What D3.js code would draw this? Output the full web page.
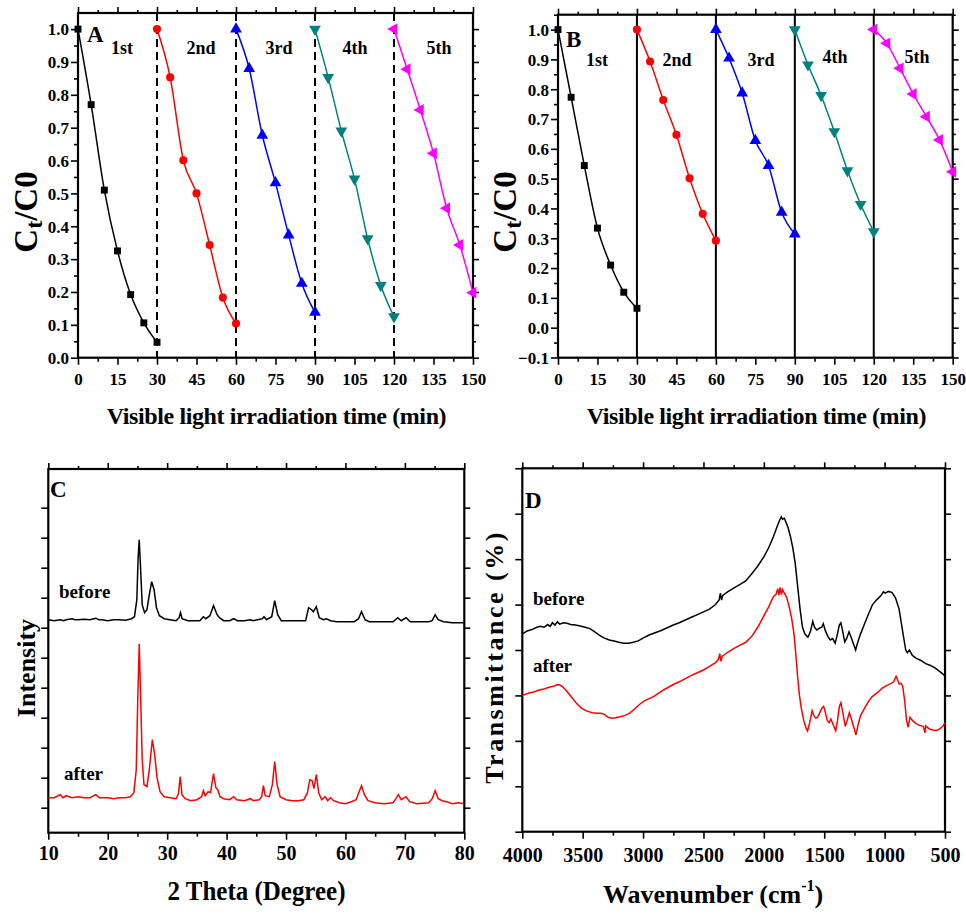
<!DOCTYPE html>
<html><head><meta charset="utf-8">
<script src="https://cdn.jsdelivr.net/npm/d3@7"></script>
<style>
html,body{margin:0;padding:0;background:#fff;}
svg text{font-family:"Liberation Serif","Times New Roman",serif;font-weight:bold;fill:#000;}
</style></head>
<body>
<svg id="chart" width="966" height="915"></svg>
<script>
// ---------- DATA ----------
const cycleLabels = ['1st','2nd','3rd','4th','5th'];
const cycleTimes = [
  [0,5,10,15,20,25,30],
  [30,35,40,45,50,55,60],
  [60,65,70,75,80,85,90],
  [90,95,100,105,110,115,120],
  [120,125,130,135,140,145,150]
];
const ratioA = [
  [1.0,0.77,0.51,0.325,0.192,0.106,0.047],
  [1.0,0.853,0.601,0.50,0.343,0.183,0.104],
  [1.0,0.88,0.677,0.532,0.373,0.226,0.138],
  [1.0,0.853,0.69,0.544,0.362,0.22,0.125],
  [1.0,0.878,0.754,0.622,0.455,0.343,0.198]
];
const ratioB = [
  [1.0,0.773,0.544,0.334,0.21,0.119,0.065],
  [1.0,0.893,0.764,0.647,0.501,0.382,0.292],
  [1.0,0.904,0.787,0.628,0.544,0.387,0.314],
  [1.0,0.882,0.779,0.658,0.527,0.414,0.322],
  [1.0,0.954,0.870,0.784,0.708,0.630,0.523]
];
const cycleBounds = [30,60,90,120];
const timeTicks = [0,15,30,45,60,75,90,105,120,135,150];
const ratioTicksA = [0,0.1,0.2,0.3,0.4,0.5,0.6,0.7,0.8,0.9,1.0];
const ratioTicksB = [-0.1,0,0.1,0.2,0.3,0.4,0.5,0.6,0.7,0.8,0.9,1.0];

// XRD (2 theta, intensity a.u.)
const xrdBefore = [[10,188],[11,187],[12,188],[12.6,187],[13,188],[14,189],[14.5,188],[15,188],[16,188.5],[17,188],[18,189.5],[18.5,188],[19,188],[20,187],[21,188],[22,188],[23,187.5],[24,189],[24.5,191],[24.9,208],[25.1,248],[25.3,268],[25.5,243],[25.8,203],[26.2,195],[26.6,198],[27.0,213],[27.4,226],[27.8,218],[28.2,200],[28.7,192],[29.5,189],[30.5,188],[31.5,187],[32.0,190],[32.25,195],[32.5,189],[33.5,187],[34.5,187],[35.5,187],[36.1,191],[36.5,189],[37.2,192],[37.8,202],[38.4,193],[38.8,190],[39.5,187],[40.5,187],[41.2,189],[41.8,187],[43,187],[44,188],[44.5,187],[46.0,189],[46.3,191],[46.7,188],[47.6,191],[48.1,207],[48.6,193],[49.2,187],[50.5,187],[52,187],[53.3,187],[53.8,200],[54.3,198],[54.6,196],[55.1,201],[55.6,190],[56.3,188],[56.8,189],[57.5,187],[58.5,186],[60,186],[61.5,186],[62.2,189],[62.7,196],[63.3,188],[64,186],[66,186],[68,186],[68.8,190],[69.4,187],[70.2,190],[70.9,186],[72,186],[74,186],[74.6,187],[75.1,193],[75.6,188],[76.5,186],[78,185],[80,185]];
const xrdAfter = [[10,10],[11,10],[12,13],[12.5,10],[13,12],[14,10],[15,11],[16,10],[17,10],[18,13],[18.6,10],[19.5,10],[20,10],[21,9],[22,10],[23,10],[23.8,11],[24.4,15],[24.8,38],[25.05,108],[25.3,164],[25.55,108],[25.8,48],[26.1,23],[26.6,21],[27.0,38],[27.5,68],[27.9,53],[28.3,30],[28.8,16],[29.5,11],[30.5,10],[31.5,9],[31.9,14],[32.2,31],[32.5,13],[33,9],[34,7],[35,8],[35.8,11],[36.1,17],[36.4,12],[36.9,16],[37.3,15],[37.8,34],[38.2,20],[38.5,18],[38.9,11],[39.5,9],[40.5,8],[41.2,11],[41.7,8],[43,7],[44,9],[44.5,7],[45.5,8],[45.9,11],[46.2,22],[46.5,12],[47.2,11],[47.7,23],[48.1,46],[48.5,23],[49,11],[50,8],[51,7],[52,7],[53,8],[53.6,15],[54.0,28],[54.4,27],[54.7,19],[55.1,33],[55.5,15],[56,8],[56.6,11],[57,7],[57.5,10],[58,7],[59,5],[60,4],[61,6],[61.8,8],[62.3,16],[62.7,22],[63.2,13],[63.8,7],[65,5],[66.5,4],[68,5],[68.5,9],[68.9,13],[69.4,8],[70.2,11],[70.8,6],[72,4],[74,5],[74.6,9],[75.1,17],[75.6,9],[76.3,7],[77,6],[78,4],[79,5],[80,4]];
const thetaTicks = [10,20,30,40,50,60,70,80];
const intensityTicks = [0,30,60,90,120,150,180,210,240,270,300];

// FTIR (wavenumber, transmittance a.u.)
const ftirBefore = [[4000,4.35],[3960,4.42],[3920,4.45],[3880,4.5],[3850,4.52],[3820,4.5],[3790,4.56],[3770,4.52],[3750,4.6],[3730,4.55],[3710,4.62],[3690,4.57],[3660,4.6],[3630,4.59],[3600,4.56],[3560,4.55],[3520,4.53],[3480,4.5],[3440,4.47],[3400,4.4],[3360,4.32],[3320,4.26],[3280,4.22],[3240,4.2],[3200,4.17],[3160,4.15],[3120,4.15],[3080,4.17],[3040,4.2],[3000,4.26],[2950,4.33],[2900,4.38],[2850,4.43],[2800,4.49],[2750,4.55],[2700,4.6],[2650,4.66],[2600,4.72],[2550,4.78],[2500,4.84],[2450,4.9],[2400,5.0],[2370,5.1],[2360,5.25],[2350,5.1],[2340,5.2],[2300,5.28],[2250,5.36],[2200,5.44],[2150,5.52],[2100,5.68],[2050,5.85],[2000,6.05],[1960,6.25],[1920,6.5],[1890,6.72],[1870,6.85],[1855,6.93],[1845,6.88],[1830,6.9],[1800,6.7],[1780,6.5],[1760,6.25],[1740,5.9],[1720,5.4],[1700,4.9],[1680,4.5],[1660,4.35],[1635,4.28],[1615,4.4],[1595,4.63],[1580,4.5],[1562,4.44],[1540,4.48],[1520,4.5],[1508,4.58],[1490,4.42],[1470,4.3],[1450,4.22],[1430,4.25],[1410,4.15],[1395,4.3],[1375,4.55],[1362,4.6],[1350,4.45],[1330,4.18],[1315,4.25],[1295,4.4],[1280,4.3],[1260,4.15],[1240,4.0],[1225,4.15],[1200,4.35],[1170,4.55],[1140,4.75],[1100,5.0],[1060,5.12],[1030,5.2],[1010,5.28],[995,5.25],[970,5.29],[940,5.27],[910,5.15],[880,4.9],[850,4.4],[825,4.0],[812,3.94],[795,4.0],[770,3.88],[740,3.82],[700,3.77],[660,3.7],[620,3.66],[580,3.6],[540,3.52],[500,3.43]];
const ftirAfter = [[4000,3.0],[3950,3.05],[3900,3.08],[3860,3.12],[3820,3.14],[3780,3.18],[3740,3.2],[3710,3.24],[3690,3.23],[3670,3.2],[3640,3.12],[3610,3.02],[3580,2.92],[3550,2.82],[3510,2.72],[3470,2.66],[3420,2.62],[3380,2.61],[3350,2.61],[3320,2.58],[3290,2.52],[3260,2.5],[3230,2.51],[3190,2.53],[3150,2.56],[3110,2.61],[3070,2.7],[3030,2.8],[2990,2.88],[2950,2.93],[2910,2.98],[2870,3.05],[2830,3.12],[2790,3.18],[2750,3.24],[2700,3.3],[2650,3.37],[2600,3.44],[2550,3.5],[2500,3.56],[2450,3.64],[2400,3.72],[2375,3.8],[2365,3.92],[2355,3.75],[2345,3.86],[2300,3.95],[2250,4.03],[2200,4.1],[2150,4.17],[2100,4.3],[2050,4.5],[2000,4.75],[1960,4.95],[1920,5.18],[1900,5.22],[1885,5.35],[1875,5.2],[1865,5.38],[1855,5.22],[1845,5.33],[1830,5.25],[1810,5.15],[1790,4.95],[1770,4.7],[1750,4.35],[1735,3.9],[1720,3.4],[1705,3.0],[1690,2.72],[1670,2.45],[1650,2.28],[1638,2.22],[1620,2.4],[1600,2.66],[1585,2.55],[1570,2.5],[1555,2.52],[1540,2.6],[1520,2.72],[1505,2.76],[1490,2.62],[1475,2.45],[1460,2.4],[1445,2.48],[1430,2.38],[1405,2.22],[1390,2.45],[1375,2.75],[1362,2.84],[1345,2.6],[1325,2.32],[1310,2.45],[1292,2.62],[1275,2.48],[1255,2.3],[1237,2.13],[1220,2.35],[1200,2.55],[1180,2.65],[1160,2.75],[1130,2.88],[1100,2.98],[1060,3.06],[1020,3.16],[980,3.22],[950,3.26],[925,3.3],[905,3.42],[895,3.36],[880,3.25],[865,3.27],[850,3.2],[835,2.9],[818,2.45],[805,2.3],[790,2.52],[770,2.45],[740,2.38],[710,2.34],[680,2.32],[665,2.18],[660,2.33],[630,2.26],[600,2.24],[570,2.23],[540,2.27],[515,2.33],[500,2.4]];
const waveTicks = [4000,3500,3000,2500,2000,1500,1000,500];
const transTicks = [0,1,2,3,4,5,6,7,8];

// ---------- DRAWING ----------
const svg = d3.select('#chart');
const FONT = '"Liberation Serif","Times New Roman",serif';
const colors = ['#000000','#ff0000','#0000ff','#008080','#ff00ff'];
const symbols = [d3.symbolSquare, d3.symbolCircle, d3.symbolTriangle, d3.symbolTriangle, d3.symbolTriangle];
const symRot = [0,0,0,180,-90];
const symSize = [48,52,60,60,60];

function minorBetween(ticks){
  const out=[];
  for(let i=0;i<ticks.length-1;i++) out.push((ticks[i]+ticks[i+1])/2);
  return out;
}

function frame(g, box, xs, ys, cfg){
  const addAxis = (gen, tr, vals, size, fmt) => {
    const a = g.append('g').attr('transform', tr)
      .call(gen.tickValues(vals).tickSize(size).tickSizeOuter(0).tickFormat(fmt));
    a.select('.domain').remove();
    a.selectAll('line').attr('stroke','#000').attr('stroke-width',1.6);
    return a;
  };
  const none = () => '';
  const xb = addAxis(d3.axisBottom(xs), `translate(0,${box.b})`, cfg.xMajor, 7, cfg.xFmt);
  xb.selectAll('text').attr('y', cfg.xLabelY).attr('dy', null)
    .style('font-size', cfg.xFont+'px').style('font-family',FONT).style('font-weight','bold');
  addAxis(d3.axisBottom(xs), `translate(0,${box.b})`, cfg.xMinor, 4, none);
  addAxis(d3.axisTop(xs), `translate(0,${box.t})`, cfg.xMajor, 6, none);
  addAxis(d3.axisTop(xs), `translate(0,${box.t})`, cfg.xMinor, 3, none);
  const yl = addAxis(d3.axisLeft(ys), `translate(${box.l},0)`, cfg.yMajor, 7, cfg.yFmt || none);
  yl.selectAll('text').attr('x', -9).attr('dy','0.34em')
    .style('font-size', (cfg.yFont||16)+'px').style('font-family',FONT).style('font-weight','bold');
  if (cfg.yMinor) addAxis(d3.axisLeft(ys), `translate(${box.l},0)`, cfg.yMinor, 4, none);
  addAxis(d3.axisRight(ys), `translate(${box.r},0)`, cfg.yMajor, 6, none);
  if (cfg.yMinor) addAxis(d3.axisRight(ys), `translate(${box.r},0)`, cfg.yMinor, 3, none);
  g.append('rect').attr('x',box.l).attr('y',box.t).attr('width',box.r-box.l).attr('height',box.b-box.t)
    .attr('fill','none').attr('stroke','#000').attr('stroke-width',2.2);
}

function text(g, x, y, str, size, anchor){
  return g.append('text').attr('x',x).attr('y',y).attr('text-anchor',anchor||'start')
    .style('font-size',size+'px').text(str);
}

function ctLabel(g, x, y){
  const t = g.append('text').attr('transform',`translate(${x},${y}) rotate(-90)`)
    .attr('text-anchor','middle').style('font-size','33px');
  t.append('tspan').text('C');
  t.append('tspan').text('t').style('font-size','24px').attr('dy','0.22em');
  t.append('tspan').text('/C0').attr('dy','-0.16em');
}

function kinetics(box, yDomain, data, yTicks, lineStyle, letter, letterPos, labelPos){
  const g = svg.append('g');
  const xs = d3.scaleLinear().domain([0,150]).range([box.l, box.r]);
  const ys = d3.scaleLinear().domain(yDomain).range([box.b, box.t]);
  g.selectAll('.sep').data(cycleBounds).enter().append('line')
    .attr('x1',d=>xs(d)).attr('x2',d=>xs(d)).attr('y1',box.t).attr('y2',box.b)
    .attr('stroke','#000').attr('stroke-width',2)
    .attr('stroke-dasharray', lineStyle==='dash' ? '8,5' : null);
  frame(g, box, xs, ys, {
    xMajor: timeTicks, xMinor: minorBetween(timeTicks), xFmt: d3.format('d'), xLabelY: 27.5, xFont: 17,
    yMajor: yTicks, yMinor: minorBetween(yTicks).concat([1.05].filter(v=>v<=yDomain[1])), yFmt: d3.format('.1f'), yFont: 17
  });
  const line = d3.line().x(d=>xs(d[0])).y(d=>ys(d[1])).curve(d3.curveMonotoneX);
  data.forEach((vals,i)=>{
    const pts = cycleTimes[i].map((t,j)=>[t, vals[j]]);
    g.append('path').attr('d', line(pts)).attr('fill','none').attr('stroke',colors[i]).attr('stroke-width',1.5);
    g.selectAll(null).data(pts).enter().append('path')
      .attr('d', d3.symbol().type(symbols[i]).size(symSize[i])())
      .attr('transform', d=>`translate(${xs(d[0])},${ys(d[1])}) rotate(${symRot[i]})`)
      .attr('fill', colors[i]);
  });
  text(g, letterPos[0], letterPos[1], letter, 23);
  cycleLabels.forEach((c,i)=> text(g, labelPos[i][0], labelPos[i][1], c, 18, 'middle'));
  text(g, (box.l+box.r)/2+1, 424, 'Visible light irradiation time (min)', 24, 'middle')
    .style('letter-spacing','-0.4px');
}

kinetics({l:78,r:473,t:13,b:357.7}, [0,1.049], ratioA, ratioTicksA, 'dash', 'A', [87,42],
  [[122,54],[201,54],[279,54],[355,54],[439,54]]);
ctLabel(svg, 37, 212);
kinetics({l:558,r:952.7,t:14.7,b:357.7}, [-0.1007,1.05], ratioB, ratioTicksB, 'solid', 'B', [566,47],
  [[597,66],[677,66],[761,66],[835,63],[917,63]]);
ctLabel(svg, 516, 212);

// ---- Panel C: XRD ----
(function(){
  const box = {l:48.3,r:464.3,t:469,b:832.7};
  const g = svg.append('g');
  const xs = d3.scaleLinear().domain([10,80]).range([box.l, box.r]);
  const ys = d3.scaleLinear().domain([-25,338.7]).range([box.b, box.t]);
  frame(g, box, xs, ys, {xMajor: thetaTicks, xMinor: minorBetween(thetaTicks), xFmt: d3.format('d'), xLabelY: 27.5, xFont: 20,
    yMajor: intensityTicks, yMinor: null, yFmt: null});
  const line = d3.line().x(d=>xs(d[0])).y(d=>ys(d[1]));
  g.append('path').attr('d', line(xrdBefore)).attr('fill','none').attr('stroke','#000').attr('stroke-width',1.5);
  g.append('path').attr('d', line(xrdAfter)).attr('fill','none').attr('stroke','#ff0000').attr('stroke-width',1.5);
  text(g, 50, 497, 'C', 23);
  text(g, 59, 598, 'before', 19);
  text(g, 64, 780, 'after', 19);
  text(g, 256.5, 900, '2 Theta (Degree)', 27, 'middle').attr('textLength',178).attr('lengthAdjust','spacingAndGlyphs');
  g.append('text').attr('transform','translate(35,668) rotate(-90)').attr('text-anchor','middle')
    .style('font-size','26px').text('Intensity');
})();

// ---- Panel D: FTIR ----
(function(){
  const box = {l:522.3,r:945,t:468.3,b:831.7};
  const g = svg.append('g');
  const xs = d3.scaleLinear().domain([4000,500]).range([box.l, box.r]);
  const ys = d3.scaleLinear().domain([0,8]).range([box.b, box.t]);
  frame(g, box, xs, ys, {xMajor: waveTicks, xMinor: minorBetween(waveTicks), xFmt: d3.format('d'), xLabelY: 30, xFont: 20,
    yMajor: transTicks, yMinor: null, yFmt: null});
  const line = d3.line().x(d=>xs(d[0])).y(d=>ys(d[1]));
  g.append('path').attr('d', line(ftirBefore)).attr('fill','none').attr('stroke','#000').attr('stroke-width',1.5);
  g.append('path').attr('d', line(ftirAfter)).attr('fill','none').attr('stroke','#ff0000').attr('stroke-width',1.5);
  text(g, 525, 508, 'D', 23);
  text(g, 533, 605, 'before', 19);
  text(g, 533, 672, 'after', 19);
  const t = g.append('text').attr('x',603).attr('y',903).style('font-size','26px');
  t.append('tspan').text('Wavenumber (cm');
  t.append('tspan').text('-1').style('font-size','16px').attr('dy','-0.75em');
  t.append('tspan').text(')').attr('dy','0.46em');
  g.append('text').attr('transform','translate(503,657) rotate(-90)').attr('text-anchor','middle')
    .style('font-size','26px').style('letter-spacing','2.5px').text('Transmittance (%)');
})();
</script>
</body></html>
